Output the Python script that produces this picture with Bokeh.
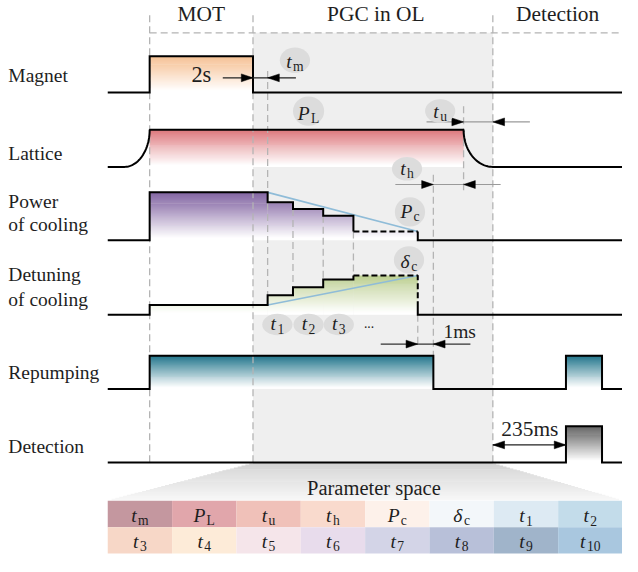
import math
from bokeh.plotting import figure
from bokeh.models import Range1d
from bokeh.core.properties import value
from bokeh.embed import file_html
from bokeh.resources import INLINE

FONT = "Liberation Serif"

# ---------------- data (schematic time axis / signal levels) ----------------
phase_names = ["MOT", "PGC in OL", "Detection"]
phase_bounds = [153, 259, 505, 638]
t_begin, t_finish = 110, 638
t_mag_off = 274
step_times = [274, 300, 331, 362]
t_cool_end = 428
t_rep_off = 444
t_lat_off = 475
t_lat_ramp = 127
det_pulse = [580, 617]

row_names = [["Magnet"], ["Lattice"], ["Power", "of cooling"],
             ["Detuning", "of cooling"], ["Repumping"], ["Detection"]]
row_name_y = [[83], [163], [212, 236], [287, 312], [387], [462]]

magnet_edges = [110, 153, 259, 638]
magnet_levels = [94, 57, 94]
lattice_low, lattice_high = 170, 132
power_edges = [110, 153, 274, 300, 331, 362, 428, 638]
power_levels = [245, 196, 206, 213, 220, 236, 245]
detuning_edges = [110, 153, 274, 300, 331, 362, 428, 638]
detuning_levels = [321, 311, 301, 293, 285, 281, 321]
repump_edges = [110, 153, 444, 580, 617, 638]
repump_levels = [397, 363, 397, 363, 397]
detect_edges = [110, 580, 617, 638]
detect_levels = [472, 435, 472]

param_row1 = [("t", "m"), ("P", "L"), ("t", "u"), ("t", "h"),
              ("P", "c"), ("δ", "c"), ("t", "1"), ("t", "2")]
param_row2 = [("t", "3"), ("t", "4"), ("t", "5"), ("t", "6"),
              ("t", "7"), ("t", "8"), ("t", "9"), ("t", "10")]
param_col1 = ["#c4979f", "#e1a6ab", "#f0c1b9", "#f9dacd",
              "#fdf1ea", "#f3f7fa", "#ddeaf3", "#c3dcea"]
param_col2 = ["#f7d7c7", "#fdebd8", "#f5e5ea", "#e8dcec",
              "#d3d4e7", "#b8c0d9", "#a0b4ca", "#a9c7df"]

# ---------------- figure ----------------
W, H = 622, 556
X0, X1 = 0, 638
Y0, Y1 = 0, 568
S = min(W / (X1 - X0), H / (Y1 - Y0))   # font scale to match the drawing scale

p = figure(width=W, height=H, x_range=Range1d(X0, X1), y_range=Range1d(Y1, Y0),
           output_backend="svg", toolbar_location=None, min_border=0,
           x_axis_location=None, y_axis_location=None, outline_line_color=None,
           background_fill_color="white", border_fill_color="white")
p.grid.visible = False


def hex2rgb(h):
    h = h.lstrip("#")
    return [int(h[i:i + 2], 16) for i in (0, 2, 4)]


def tint(c, f):
    f = max(0.0, min(1.0, f))
    return "#%02x%02x%02x" % tuple(int(round(v + (255 - v) * f)) for v in hex2rgb(c))


# gray PGC region
p.quad(left=phase_bounds[1], right=phase_bounds[2], top=33, bottom=detect_levels[0],
       fill_color="#efefef", line_color=None)

strips = dict(left=[], right=[], top=[], bottom=[], color=[])


def add_strip(x0, x1, y0, y1, col):
    strips["left"].append(x0)
    strips["right"].append(x1)
    strips["top"].append(y0)
    strips["bottom"].append(y1)
    strips["color"].append(col)


def grad_fill(segs, y_top, y_base, color, pw=1.0):
    for (x0, x1, yt) in segs:
        y = yt
        while y < y_base:
            f = ((y + 0.5 - y_top) / (y_base - y_top)) ** pw
            add_strip(x0, x1, y, min(y + 1.5, y_base), tint(color, f * 1.05))
            y += 1


def step_segs(edges, levels):
    base = max(levels)
    return [(edges[i], edges[i + 1], levels[i]) for i in range(len(levels)) if levels[i] < base]


# fan to the parameter table
tb_top = 510
for k in range(int(tb_top - detect_levels[0])):
    y = detect_levels[0] + k
    t = k / (tb_top - detect_levels[0])
    add_strip(259 + (t_begin - 259) * t, 505 + (t_finish - 505) * t, y, y + 1.5,
              tint("#d2d2d2", t * 0.85))

grad_fill(step_segs(magnet_edges, magnet_levels), min(magnet_levels), max(magnet_levels), "#f5bd8e")
grad_fill([(phase_bounds[0], t_lat_off, lattice_high)], lattice_high, lattice_low, "#dd777c")
grad_fill(step_segs(power_edges, power_levels), min(power_levels), max(power_levels), "#7a5a9c")
grad_fill(step_segs(detuning_edges, detuning_levels), min(detuning_levels), max(detuning_levels), "#bccf90")
grad_fill(step_segs(repump_edges, repump_levels), min(repump_levels), max(repump_levels), "#23768c")
grad_fill(step_segs(detect_edges, detect_levels), min(detect_levels), max(detect_levels), "#5a5a5a")

p.quad(left="left", right="right", top="top", bottom="bottom", fill_color="color",
       line_color=None, source=strips)

# parameter table cells
cw = (t_finish - t_begin) / len(param_row1)
cells = dict(left=[], right=[], top=[], bottom=[], color=[])
for r, (cols, y0) in enumerate([(param_col1, 511), (param_col2, 538)]):
    for i, c in enumerate(cols):
        cells["left"].append(t_begin + cw * i)
        cells["right"].append(t_begin + cw * (i + 1))
        cells["top"].append(y0)
        cells["bottom"].append(y0 + 27)
        cells["color"].append(c)
p.quad(left="left", right="right", top="top", bottom="bottom", fill_color="color",
       line_color=None, source=cells)

# gray dashed guide lines
vguides = [(phase_bounds[0], 15, 472), (phase_bounds[1], 15, 472), (phase_bounds[2], 15, 472),
           (t_mag_off, 72, 301), (step_times[1], 213, 293), (step_times[2], 220, 285),
           (step_times[3], 236, 281), (t_cool_end, 321, 353), (t_rep_off, 178, 363),
           (t_lat_off, 108, 195)]
p.segment(x0=[v[0] for v in vguides], y0=[v[1] for v in vguides],
          x1=[v[0] for v in vguides], y1=[v[2] for v in vguides],
          line_color="#b4b4b4", line_width=1.3, line_dash="7 4")
p.segment(x0=[phase_bounds[0]], y0=[33], x1=[t_finish], y1=[33],
          line_color="#b4b4b4", line_width=1.3, line_dash="7 4")

# blue trend lines
p.line([step_times[0], t_cool_end], [power_levels[1], power_levels[5]], line_color="#8fbcd8", line_width=1.6)
p.line([step_times[0], t_cool_end], [detuning_levels[1], detuning_levels[5]], line_color="#8fbcd8", line_width=1.6)


def step_xy(edges, levels):
    xs, ys = [edges[0]], [levels[0]]
    for i in range(len(levels)):
        xs.append(edges[i + 1]); ys.append(levels[i])
        if i + 1 < len(levels):
            xs.append(edges[i + 1]); ys.append(levels[i + 1])
    return xs, ys


LW = 2.0
for e, l in [(magnet_edges, magnet_levels), (repump_edges, repump_levels), (detect_edges, detect_levels)]:
    xs, ys = step_xy(e, l)
    p.line(xs, ys, line_color="black", line_width=LW, line_join="miter")

# power of cooling
xs, ys = step_xy(power_edges, power_levels)
p.line(xs[:11], ys[:11], line_color="black", line_width=LW, line_join="miter")
p.line(xs[10:12], ys[10:12], line_color="black", line_width=LW, line_dash="6 3")
p.line(xs[11:], ys[11:], line_color="black", line_width=LW, line_join="miter")

# detuning of cooling
xs, ys = step_xy(detuning_edges, detuning_levels)
p.line(xs[:11], ys[:11], line_color="black", line_width=LW, line_join="miter")
p.line([xs[10], xs[11], xs[11]], [ys[10], ys[11], detuning_levels[1]],
       line_color="black", line_width=LW, line_dash="6 3")
p.line([xs[11]] + xs[12:], [detuning_levels[1]] + ys[12:], line_color="black", line_width=LW, line_join="miter")

# lattice with ramps
lx = [t_begin, t_lat_ramp]
ly = [lattice_low, lattice_low]
n = 30
for k in range(1, n + 1):
    th = math.pi / 2 * k / n
    lx.append(t_lat_ramp + (phase_bounds[0] - t_lat_ramp) * math.sin(th))
    ly.append(lattice_high + (lattice_low - lattice_high) * math.cos(th))
for k in range(0, n + 1):
    th = math.pi / 2 * k / n
    lx.append(phase_bounds[2] - (phase_bounds[2] - t_lat_off) * math.cos(th))
    ly.append(lattice_high + (lattice_low - lattice_high) * math.sin(th))
lx.append(t_finish); ly.append(lattice_low)
p.line(lx, ly, line_color="black", line_width=LW)

# arrows
heads = dict(xs=[], ys=[])


def head(tx, ty, d, L=12, Wd=4):
    heads["xs"].append([tx, tx - d * L, tx - d * L])
    heads["ys"].append([ty, ty - Wd, ty + Wd])


arrow_lines = [(228, 303, 79, "#222222"), (437, 543, 124, "#9a9a9a"),
               (405, 513, 188, "#9a9a9a"), (390, 482, 351, "#333333"),
               (phase_bounds[2], det_pulse[0], 454, "#222222")]
for x0, x1, y, c in arrow_lines:
    p.line([x0, x1], [y, y], line_color=c, line_width=1.1)
head(phase_bounds[1], 79, 1); head(t_mag_off, 79, -1)
head(t_lat_off, 124, 1); head(phase_bounds[2], 124, -1)
head(t_rep_off, 188, 1); head(t_lat_off, 188, -1)
head(t_cool_end, 351, 1); head(t_rep_off, 351, -1)
head(phase_bounds[2], 454, -1); head(det_pulse[0], 454, 1)
p.patches(xs="xs", ys="ys", source=heads, fill_color="black", line_color="black", line_width=0.5)

# label bubbles
bubbles = [(302, 61, 31, 26), (316, 113, 32, 30), (451, 113, 31, 24), (417, 172, 31, 24),
           (420, 216, 31, 30), (419, 265, 31, 28), (284, 331, 31, 22), (316, 331, 31, 22),
           (347, 331, 31, 22)]
p.ellipse(x=[b[0] for b in bubbles], y=[b[1] for b in bubbles],
          width=[b[2] for b in bubbles], height=[b[3] for b in bubbles],
          fill_color="#dcdcdc", line_color=None)

# ---------------- texts ----------------
groups = {}


def add_text(x, yb, t, size, style="normal", align="left"):
    # yb is the alphabetic baseline; Bokeh places text by its middle
    fs = round(size * S, 1)
    g = groups.setdefault((fs, style, align), dict(x=[], y=[], text=[]))
    g["x"].append(x); g["y"].append(yb - 0.34 * size); g["text"].append(t)


W_IT = {"t": 0.30, "P": 0.62, "δ": 0.50}
W_RG = {"m": 0.778, "L": 0.611, "u": 0.5, "h": 0.5, "c": 0.444}


def sym(xc, yb, main, sub, size=20, ss=14):
    wm = W_IT.get(main, 0.5) * size + 1.0
    ws = sum(W_RG.get(ch, 0.5) for ch in sub) * ss
    x0 = xc - (wm + ws) / 2
    add_text(x0, yb, main, size, "italic")
    add_text(x0 + wm, yb + 3, sub, ss)


for i, name in enumerate(phase_names):
    add_text((phase_bounds[i] + phase_bounds[i + 1]) / 2 + (3 if i == 1 else 0), 21.5, name, 22, align="center")
for names, ys_ in zip(row_names, row_name_y):
    for nm, yy in zip(names, ys_):
        add_text(8, yy, nm, 20)

add_text(206, 83, "2s", 23, align="center")
add_text(471, 345, "1ms", 20, align="center")
add_text(543, 445, "235ms", 22, align="center")
add_text(383, 505, "Parameter space", 21, align="center")
add_text(378, 334, "...", 14, align="center")

sym(302, 69, "t", "m")
sym(316, 122, "P", "L")
sym(451, 120, "t", "u")
sym(417, 178, "t", "h")
sym(420, 222, "P", "c")
sym(419, 273, "δ", "c")
sym(284, 337, "t", "1")
sym(316, 337, "t", "2")
sym(347, 337, "t", "3")

for i, (m, s) in enumerate(param_row1):
    sym(t_begin + cw * (i + 0.5), 533, m, s)
for i, (m, s) in enumerate(param_row2):
    sym(t_begin + cw * (i + 0.5), 559, m, s)

for (size, style, align), g in groups.items():
    p.text(x="x", y="y", text="text", source=g, text_font=value(FONT),
           text_font_size=value(f"{size}px"), text_font_style=style,
           text_align=align, text_baseline="middle", text_color="#1e1e1e")

open("out.html", "w").write(file_html(p, INLINE))
